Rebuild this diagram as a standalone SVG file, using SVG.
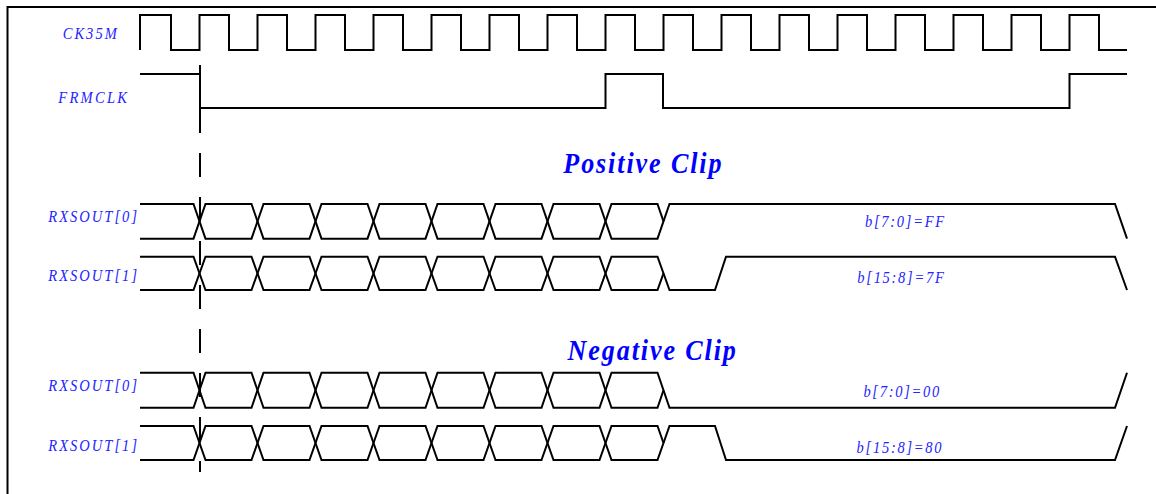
<svg xmlns="http://www.w3.org/2000/svg" width="1156" height="494" viewBox="0 0 1156 494">
<style>
.w{fill:none;stroke:#000;stroke-width:2;stroke-linejoin:miter}
.lbl{font-family:"Liberation Serif","Times New Roman",serif;font-style:italic;font-size:16.5px;fill:#2424ff;letter-spacing:2.3px}
.val{font-family:"Liberation Serif","Times New Roman",serif;font-style:italic;font-size:16.5px;fill:#2424ff;letter-spacing:1.95px}
.ttl{font-family:"Liberation Serif","Times New Roman",serif;font-style:italic;font-weight:bold;font-size:29px;fill:#0000ff;letter-spacing:2.1px}
</style>
<rect width="1156" height="494" fill="#fff"/>
<path class="w" d="M7.5,494 V7 H1156"/>

<g id="ck35m">
<text class="lbl" transform="translate(62.7,39) scale(0.88,1)">CK35M</text>
<path class="w" d="M140,50 V15 H171 V50 H199.5 V15 H229 V50 H257.5 V15 H287 V50 H315.5 V15 H345 V50 H373.5 V15 H403 V50 H431.5 V15 H461 V50 H489.5 V15 H519 V50 H547.5 V15 H577 V50 H605.5 V15 H635 V50 H663.5 V15 H693 V50 H721.5 V15 H751 V50 H779.5 V15 H809 V50 H837.5 V15 H867 V50 H895.5 V15 H925 V50 H953.5 V15 H983 V50 H1011.5 V15 H1041 V50 H1069.5 V15 H1099 V50 H1127"/>
</g>

<g id="frmclk">
<text class="lbl" transform="translate(58.3,102.5) scale(0.88,1)" style="letter-spacing:2.6px">FRMCLK</text>
<path class="w" d="M140,74 H200 V108 H605.5 V74 H663 V108 H1069.5 V74 H1127"/>
</g>

<g id="connectors">
<path class="w" d="M200,65 V133"/>
<path class="w" d="M200,153 V472" stroke-dasharray="24 20"/>
</g>

<g id="positive-title">
<text class="ttl" transform="translate(563.3,173.3) scale(0.9,1)">Positive Clip</text>
</g>

<g id="pos-rxsout0">
<text class="lbl" transform="translate(48.3,221.7) scale(0.88,1)">RXSOUT[0]</text>
<path class="w" d="M140,204 H193.5 L205.5,238.7 H251.5 L263.5,204 H309.5 L321.5,238.7 H367.5 L379.5,204 H425.5 L437.5,238.7 H483.5 L495.5,204 H541.5 L553.5,238.7 H599.5 L611.5,204 H657.5 L663.5,221.3"/>
<path class="w" d="M140,238.7 H193.5 L205.5,204 H251.5 L263.5,238.7 H309.5 L321.5,204 H367.5 L379.5,238.7 H425.5 L437.5,204 H483.5 L495.5,238.7 H541.5 L553.5,204 H599.5 L611.5,238.7 H657.5 L669.5,204 H1115 L1127,238.7"/>
<text class="val" transform="translate(865,226.7) scale(0.88,1)">b[7:0]=FF</text>
</g>

<g id="pos-rxsout1">
<text class="lbl" transform="translate(48.3,281) scale(0.88,1)">RXSOUT[1]</text>
<path class="w" d="M140,256.7 H193.5 L205.5,290 H251.5 L263.5,256.7 H309.5 L321.5,290 H367.5 L379.5,256.7 H425.5 L437.5,290 H483.5 L495.5,256.7 H541.5 L553.5,290 H599.5 L611.5,256.7 H657.5 L669.5,290 H715 L726,256.7 H1115 L1127,290"/>
<path class="w" d="M140,290 H193.5 L205.5,256.7 H251.5 L263.5,290 H309.5 L321.5,256.7 H367.5 L379.5,290 H425.5 L437.5,256.7 H483.5 L495.5,290 H541.5 L553.5,256.7 H599.5 L611.5,290 H657.5 L663.5,273.3"/>
<text class="val" transform="translate(857.3,283) scale(0.88,1)">b[15:8]=7F</text>
</g>

<g id="negative-title">
<text class="ttl" transform="translate(567.6,360) scale(0.9,1)">Negative Clip</text>
</g>

<g id="neg-rxsout0">
<text class="lbl" transform="translate(48.3,391) scale(0.88,1)">RXSOUT[0]</text>
<path class="w" d="M140,372.7 H193.5 L205.5,407.7 H251.5 L263.5,372.7 H309.5 L321.5,407.7 H367.5 L379.5,372.7 H425.5 L437.5,407.7 H483.5 L495.5,372.7 H541.5 L553.5,407.7 H599.5 L611.5,372.7 H657.5 L669.5,407.7 H1115 L1127,372.7"/>
<path class="w" d="M140,407.7 H193.5 L205.5,372.7 H251.5 L263.5,407.7 H309.5 L321.5,372.7 H367.5 L379.5,407.7 H425.5 L437.5,372.7 H483.5 L495.5,407.7 H541.5 L553.5,372.7 H599.5 L611.5,407.7 H657.5 L663.5,390.2"/>
<text class="val" transform="translate(863.4,396.5) scale(0.88,1)">b[7:0]=00</text>
</g>

<g id="neg-rxsout1">
<text class="lbl" transform="translate(48.3,451) scale(0.88,1)">RXSOUT[1]</text>
<path class="w" d="M140,426 H193.5 L205.5,460 H251.5 L263.5,426 H309.5 L321.5,460 H367.5 L379.5,426 H425.5 L437.5,460 H483.5 L495.5,426 H541.5 L553.5,460 H599.5 L611.5,426 H657.5 L663.5,443"/>
<path class="w" d="M140,460 H193.5 L205.5,426 H251.5 L263.5,460 H309.5 L321.5,426 H367.5 L379.5,460 H425.5 L437.5,426 H483.5 L495.5,460 H541.5 L553.5,426 H599.5 L611.5,460 H657.5 L669.5,426 H715 L726,460 H1115 L1127,426"/>
<text class="val" transform="translate(856.6,453) scale(0.88,1)">b[15:8]=80</text>
</g>
</svg>
